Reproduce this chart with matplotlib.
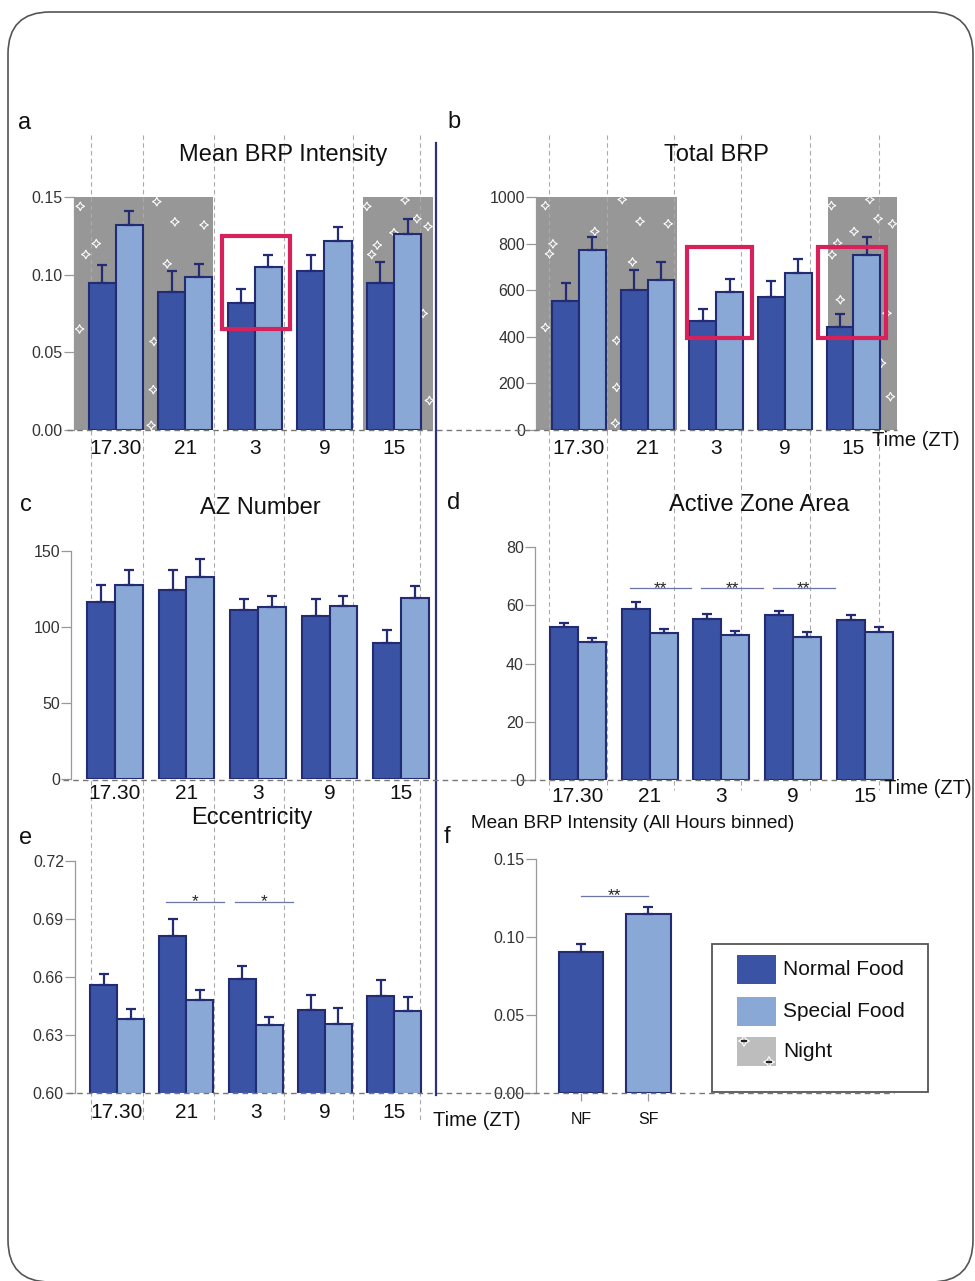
import matplotlib
matplotlib.use('Agg')
import matplotlib.pyplot as plt
from matplotlib.patches import Rectangle, FancyBboxPatch
import numpy as np

plt.rcParams.update({
    'font.family': ['Liberation Sans', 'DejaVu Sans'],
    'axes.linewidth': 0.9,
})

# ---------------- data ----------------
times = ['17.30', '21', '3', '9', '15']

brp_mean_nf = [0.0948, 0.0888, 0.0815, 0.1024, 0.0948]
brp_mean_nf_err = [0.0115, 0.0138, 0.0092, 0.0101, 0.0132]
brp_mean_sf = [0.1319, 0.0983, 0.1052, 0.1218, 0.1259]
brp_mean_sf_err = [0.0093, 0.0084, 0.0075, 0.0092, 0.0101]

total_brp_nf = [554, 600, 467, 572, 443]
total_brp_nf_err = [75, 85, 52, 66, 56]
total_brp_sf = [771, 645, 593, 672, 749]
total_brp_sf_err = [56, 77, 56, 63, 78]

az_num_nf = [116.7, 124.4, 111.0, 107.3, 89.8]
az_num_nf_err = [11.2, 13.1, 7.2, 10.9, 8.3]
az_num_sf = [127.7, 132.7, 113.2, 113.9, 118.9]
az_num_sf_err = [10.0, 12.0, 7.2, 6.8, 7.9]

az_area_nf = [52.6, 58.7, 55.3, 56.5, 54.9]
az_area_nf_err = [1.3, 2.4, 1.6, 1.4, 1.6]
az_area_sf = [47.5, 50.6, 49.9, 49.0, 50.9]
az_area_sf_err = [1.1, 1.4, 1.3, 1.9, 1.6]

ecc_nf = [0.6560, 0.6813, 0.6589, 0.6430, 0.6503]
ecc_nf_err = [0.0056, 0.0089, 0.0067, 0.0078, 0.0082]
ecc_sf = [0.6384, 0.6482, 0.6351, 0.6358, 0.6425]
ecc_sf_err = [0.0052, 0.0050, 0.0043, 0.0083, 0.0071]

binned_labels = ['NF', 'SF']
binned_mean = [0.0904, 0.1147]
binned_err = [0.0053, 0.0045]

# night periods (in group index units)
night_a = [(-0.60, 1.40), (3.55, 4.56)]
night_b = [(-0.63, 1.43), (3.63, 4.64)]
stars_a = [(-0.51, 0.144), (-0.28, 0.120), (-0.43, 0.113), (-0.52, 0.065),
           (0.59, 0.147), (0.85, 0.134), (1.27, 0.132), (0.74, 0.107),
           (0.55, 0.057), (0.54, 0.026), (0.51, 0.003), (3.61, 0.144),
           (4.16, 0.148), (4.33, 0.136), (4.49, 0.131), (4.00, 0.127),
           (3.76, 0.119), (3.68, 0.113), (4.42, 0.075), (4.51, 0.019)]
stars_b = [(-0.49, 963), (-0.43, 756), (-0.38, 799), (-0.49, 440),
           (0.63, 989), (0.89, 895), (1.30, 885), (0.78, 721), (0.55, 384),
           (0.55, 183), (0.53, 29), (0.23, 852), (3.68, 963), (4.24, 989),
           (4.36, 907), (4.57, 885), (4.01, 852), (3.77, 802), (3.69, 752),
           (3.81, 559), (4.41, 287), (4.54, 143), (4.49, 501)]

# ---------------- style ----------------
C_NF = '#3A53A5'
C_SF = '#89A8D5'
C_EDGE = '#232B72'
C_NIGHT = '#979797'
C_RED = '#D7215B'
C_TICK = '#333333'
C_SPINE = '#999999'

W, H = 975, 1281
fig = plt.figure(figsize=(9.75, 12.81), dpi=100)
fig.patch.set_facecolor('white')


def px_axes(left, right, bottom, top, z=0):
    ax = fig.add_axes([left / W, 1 - bottom / H, (right - left) / W,
                       (bottom - top) / H], zorder=z)
    ax.patch.set_alpha(0)
    return ax


def style_axes(ax, xlim, ylim, yticks, yfmt, xpad):
    ax.set_xlim(*xlim)
    ax.set_ylim(*ylim)
    ax.set_yticks(yticks)
    ax.set_yticklabels([yfmt.format(v) for v in yticks])
    for s in ['top', 'right', 'bottom']:
        ax.spines[s].set_visible(False)
    ax.spines['left'].set_color(C_SPINE)
    ax.tick_params(axis='y', length=7, width=0.9, color=C_SPINE,
                   labelsize=11.5, labelcolor=C_TICK, pad=1)
    ax.tick_params(axis='x', length=0, labelsize=15, labelcolor='#111111',
                   pad=xpad)


def grouped(ax, nf, nf_err, sf, sf_err):
    x = np.arange(len(times))
    w = 0.39
    ax.bar(x - w / 2, nf, w, color=C_NF, edgecolor=C_EDGE, linewidth=1.5,
           zorder=2)
    ax.bar(x + w / 2, sf, w, color=C_SF, edgecolor=C_EDGE, linewidth=1.5,
           zorder=2)
    ax.errorbar(x - w / 2, nf, yerr=[np.zeros(len(nf)), nf_err], fmt='none',
                ecolor=C_EDGE, elinewidth=1.6, capsize=3.5, capthick=1.6,
                zorder=3)
    ax.errorbar(x + w / 2, sf, yerr=[np.zeros(len(sf)), sf_err], fmt='none',
                ecolor=C_EDGE, elinewidth=1.6, capsize=3.5, capthick=1.6,
                zorder=3)
    ax.set_xticks(x)
    ax.set_xticklabels(times)


def night_bg(left, right, bottom, top, xlim, ylim, spans, stars):
    bg = px_axes(left, right, bottom, top, z=-10)
    bg.set_xlim(*xlim)
    bg.set_ylim(*ylim)
    bg.axis('off')
    for x0, x1 in spans:
        bg.add_patch(Rectangle((x0, ylim[0]), x1 - x0, ylim[1] - ylim[0],
                               facecolor=C_NIGHT, edgecolor='none'))
    sx, sy = zip(*stars)
    bg.scatter(sx, sy, marker=(4, 1, 0), s=38, facecolor='none',
               edgecolor='white', linewidth=0.8)


def sig(ax, x0, x1, y, label):
    ax.plot([x0, x1], [y, y], color='#6B75A8', lw=0.9, zorder=4)
    ax.text((x0 + x1) / 2, y, label, ha='center', va='center',
            fontsize=12.5, color='#222222', zorder=5)


# ---------------- panel a ----------------
xl_a = (-0.60, 4.59)
night_bg(74, 435, 430, 197, xl_a, (0, 0.15), night_a, stars_a)
ax_a = px_axes(74, 435, 430, 197)
grouped(ax_a, brp_mean_nf, brp_mean_nf_err, brp_mean_sf, brp_mean_sf_err)
style_axes(ax_a, xl_a, (0, 0.15), [0, 0.05, 0.10, 0.15], '{:.2f}', 6.5)
ax_a.add_patch(Rectangle((1.53, 0.0653), 0.97, 0.0593, fill=False,
                         edgecolor=C_RED, linewidth=3, zorder=6))

# ---------------- panel b ----------------
xl_b = (-0.627, 4.636)
night_bg(536, 897, 430, 197, xl_b, (0, 1000), night_b, stars_b)
ax_b = px_axes(536, 897, 430, 197)
grouped(ax_b, total_brp_nf, total_brp_nf_err, total_brp_sf, total_brp_sf_err)
style_axes(ax_b, xl_b, (0, 1000), [0, 200, 400, 600, 800, 1000], '{:d}', 6.5)
for x0, x1 in [(1.58, 2.52), (3.48, 4.48)]:
    ax_b.add_patch(Rectangle((x0, 395), x1 - x0, 390, fill=False,
                             edgecolor=C_RED, linewidth=3, zorder=6))

# ---------------- panel c ----------------
ax_c = px_axes(71, 435, 779, 551)
grouped(ax_c, az_num_nf, az_num_nf_err, az_num_sf, az_num_sf_err)
style_axes(ax_c, (-0.615, 4.475), (0, 150), [0, 50, 100, 150], '{:d}', 3.5)

# ---------------- panel d ----------------
ax_d = px_axes(535, 895, 780, 547)
grouped(ax_d, az_area_nf, az_area_nf_err, az_area_sf, az_area_sf_err)
style_axes(ax_d, (-0.6, 4.42), (0, 80), [0, 20, 40, 60, 80], '{:d}', 5)
for i in [1, 2, 3]:
    sig(ax_d, i - 0.28, i + 0.58, 65.8, '**')

# ---------------- panel e ----------------
ax_e = px_axes(75, 435, 1093, 861)
grouped(ax_e, ecc_nf, ecc_nf_err, ecc_sf, ecc_sf_err)
style_axes(ax_e, (-0.607, 4.59), (0.60, 0.72),
           [0.60, 0.63, 0.66, 0.69, 0.72], '{:.2f}', 7)
for i in [1, 2]:
    sig(ax_e, i - 0.30, i + 0.54, 0.699, '*')

# ---------------- panel f ----------------
ax_f = px_axes(536, 894, 1093, 859)
xf = np.arange(len(binned_labels))
ax_f.bar(xf, binned_mean, 0.66, color=[C_NF, C_SF], edgecolor=C_EDGE,
         linewidth=1.5, zorder=2)
ax_f.errorbar(xf, binned_mean, yerr=[np.zeros(2), binned_err], fmt='none',
              ecolor=C_EDGE, elinewidth=1.6, capsize=3.5, capthick=1.6,
              zorder=3)
style_axes(ax_f, (-0.667, 4.64), (0, 0.15), [0, 0.05, 0.10, 0.15],
           '{:.2f}', 7)
ax_f.set_xticks(xf)
ax_f.set_xticklabels(binned_labels)
ax_f.tick_params(axis='x', length=6, width=0.9, color=C_SPINE, labelsize=11.5,
                 pad=8)
sig(ax_f, 0.0, 1.0, 0.1263, '**')

# ---------------- decorations (pixel coordinates) ----------------
under = px_axes(0, W, H, 0, z=-5)
under.set_xlim(0, W)
under.set_ylim(H, 0)
under.axis('off')
for xv in [91, 143, 214, 284, 353, 420]:
    under.plot([xv, xv], [135, 1120], color='#AAAAAA', lw=0.8,
               dashes=(4, 3))
for xv in [549, 607, 674, 741, 810, 879]:
    under.plot([xv, xv], [135, 790], color='#AAAAAA', lw=0.8,
               dashes=(4, 3))

top = px_axes(0, W, H, 0, z=10)
top.set_xlim(0, W)
top.set_ylim(H, 0)
top.axis('off')

# outer rounded frame
top.add_patch(FancyBboxPatch((48, 52), 885, 1190,
                             boxstyle='round,pad=40,rounding_size=42',
                             facecolor='none', edgecolor='#555555', lw=1.2))

# divider between columns
top.plot([436, 436], [143, 1095], color='#2E3180', lw=1.6)

# dashed baselines running across the columns
for y, x0, x1 in [(430, 67, 897), (779.5, 63, 884), (1093, 67, 894)]:
    top.plot([x0, x1], [y, y], color='#777777', lw=1.0, dashes=(4, 3))

panel_letters = [('a', 25, 123), ('b', 454, 122), ('c', 26, 505),
                 ('d', 454, 503), ('e', 26, 838), ('f', 447, 837)]
for s, x, y in panel_letters:
    top.text(x, y, s, fontsize=17, ha='center', va='center', color='#111111')

titles = [('Mean BRP Intensity', 283, 155), ('Total BRP', 716, 155),
          ('AZ Number', 260, 508), ('Active Zone Area', 759, 505),
          ('Eccentricity', 252, 818)]
for s, x, y in titles:
    top.text(x, y, s, fontsize=17, ha='center', va='center', color='#111111')
top.text(471, 823, 'Mean BRP Intensity (All Hours binned)', fontsize=13.7,
         ha='left', va='center', color='#111111')

for x, y in [(872, 440), (884, 788), (433, 1120)]:
    top.text(x, y, 'Time (ZT)', fontsize=14.5, ha='left', va='center',
             color='#111111')

# legend
top.add_patch(Rectangle((712, 944), 216, 148, facecolor='white',
                        edgecolor='#555555', lw=1.3))
leg_items = [('Normal Food', C_NF, 955), ('Special Food', C_SF, 997),
             ('Night', '#BDBDBD', 1037)]
for lab, col, y in leg_items:
    top.add_patch(Rectangle((737, y), 39, 29, facecolor=col, edgecolor='none'))
    top.text(783, y + 14.5, lab, fontsize=15, ha='left', va='center',
             color='#111111')
top.scatter([744, 769], [1041, 1062], marker=(4, 1, 0), s=60,
            facecolor='none', edgecolor='white', linewidth=0.8)
top.plot([742, 746], [1041, 1041], color='#222222', lw=1.5)
top.plot([767, 771], [1062, 1062], color='#222222', lw=1.5)

fig.savefig('out.png', dpi=100)
